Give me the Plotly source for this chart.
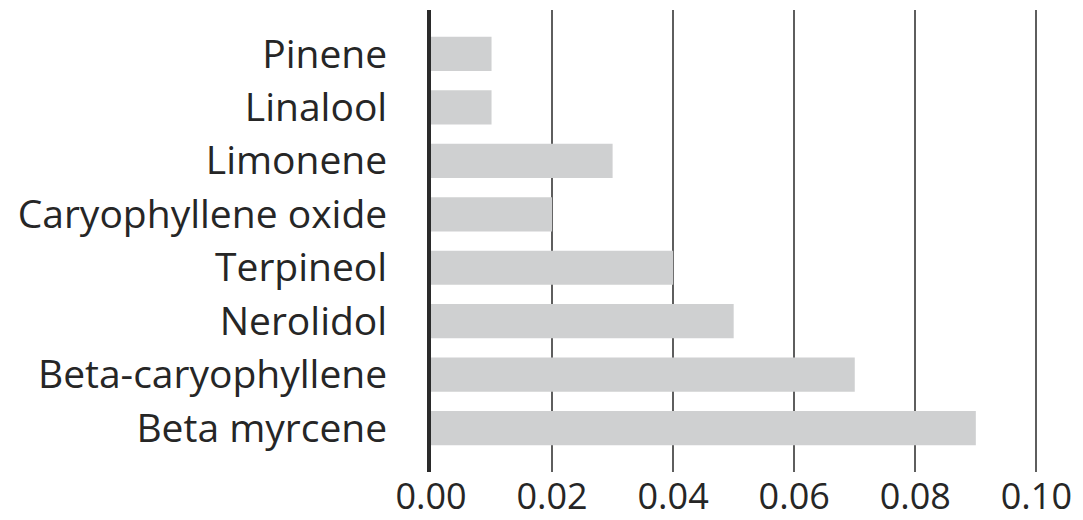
import plotly.graph_objects as go

# Terpene content by compound
compounds = ["Pinene", "Linalool", "Limonene", "Caryophyllene oxide",
             "Terpineol", "Nerolidol", "Beta-caryophyllene", "Beta myrcene"]
amounts = [0.01, 0.01, 0.03, 0.02, 0.04, 0.05, 0.07, 0.09]
x_ticks = [0.00, 0.02, 0.04, 0.06, 0.08, 0.10]
x_tick_labels = ["0.00", "0.02", "0.04", "0.06", "0.08", "0.10"]

fig = go.Figure(
    go.Bar(
        x=amounts,
        y=compounds,
        orientation="h",
        marker=dict(color="#cfd0d1", line=dict(width=0)),
        hoverinfo="x+y",
    )
)

fig.update_layout(
    width=1083,
    height=520,
    margin=dict(l=431, r=43, t=10, b=48),
    paper_bgcolor="white",
    plot_bgcolor="white",
    bargap=0.36,
    showlegend=False,
    font=dict(family="Open Sans", size=39, color="#262626"),
    xaxis=dict(
        # small headroom past 0.10 so its grid line is drawn
        range=[0, 0.1006],
        tickvals=x_ticks,
        ticktext=x_tick_labels,
        showgrid=True,
        gridcolor="#5e5e5e",
        gridwidth=2,
        zeroline=False,
        showline=False,
        ticks="",
        tickfont=dict(size=36),
        ticklabelstandoff=0,
        automargin=False,
        layer="below traces",
    ),
    yaxis=dict(
        categoryorder="array",
        categoryarray=compounds,
        range=[7.82, -0.82],
        showgrid=False,
        zeroline=False,
        showline=True,
        linecolor="#2a2a2a",
        linewidth=4,
        ticks="",
        tickfont=dict(size=39),
        ticklabelstandoff=32,
        automargin=False,
    ),
)

fig.write_html("out.html")
